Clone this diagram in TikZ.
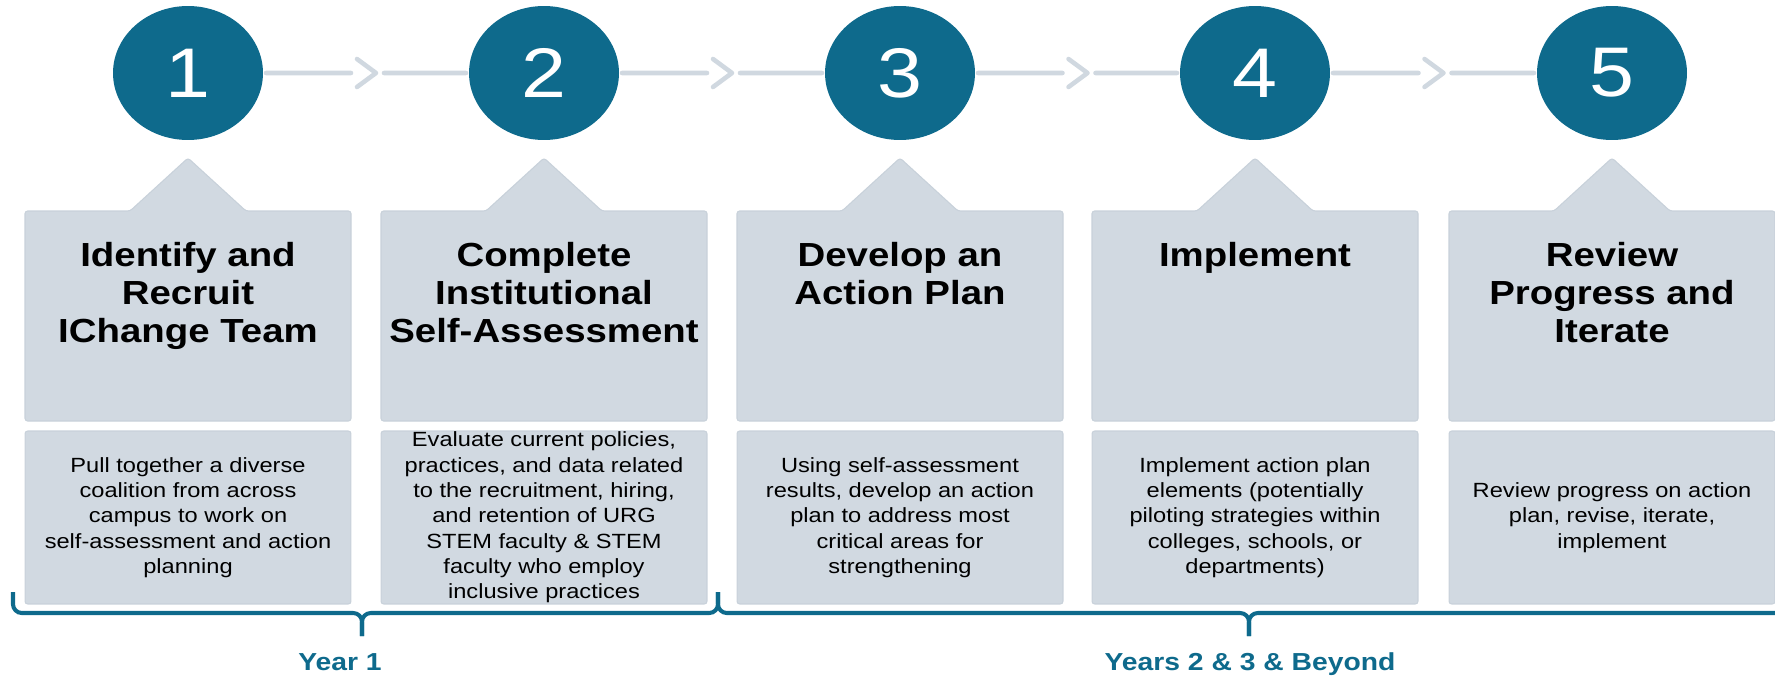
\documentclass[tikz,border=0pt]{standalone}
\usepackage{fontspec}
\setmainfont[FakeStretch=1.15]{Liberation Sans}
\usetikzlibrary{shapes.geometric, calc}

\definecolor{stepteal}{HTML}{0E6A8C}
\definecolor{boxgray}{HTML}{D1D9E1}
\definecolor{boxedge}{HTML}{C8D1DA}
\definecolor{linkgray}{HTML}{D0D8E0}

\tikzset{
  num/.style={ellipse, fill=stepteal, minimum width=3cm, minimum height=2.68cm, inner sep=0pt, text=white, font=\fontsize{40}{40}\selectfont},
  card/.style={fill=boxgray, draw=boxedge, line width=0.6pt, rounded corners=1.5pt},
  head/.style={align=center, inner sep=0pt, anchor=north, font=\fontsize{19}{21.6}\selectfont\bfseries},
  desc/.style={align=center, inner sep=0pt, font=\fontsize{11.7}{14.4}\selectfont},
  link/.style={linkgray, line width=2.6pt, line cap=round, line join=round},
  yearbrace/.style={stepteal, line width=2.3pt, rounded corners=5pt},
  yearlabel/.style={anchor=base, text=stepteal, font=\fontsize{14}{16}\selectfont\bfseries}
}

\begin{document}
\begin{tikzpicture}[x=0.02cm, y=-0.02cm]
\useasboundingbox (0,0) rectangle (1775,676);
\foreach \i/\x/\title/\body in {
  1/188/{Identify and\\Recruit\\IChange Team}/{Pull together a diverse\\coalition from across\\campus to work on\\self-assessment and action\\planning},
  2/544/{Complete\\Institutional\\Self-Assessment}/{Evaluate current policies,\\practices, and data related\\to the recruitment, hiring,\\and retention of URG\\STEM faculty \& STEM\\faculty who employ\\inclusive practices},
  3/900/{Develop an\\Action Plan}/{Using self-assessment\\results, develop an action\\plan to address most\\critical areas for\\strengthening},
  4/1255/{Implement}/{Implement action plan\\elements (potentially\\piloting strategies within\\colleges, schools, or\\departments)},
  5/1612/{Review\\Progress and\\Iterate}/{Review progress on action\\plan, revise, iterate,\\implement}} {
  \node[num] (c\i) at (\x,73) {\i};
  \draw[card] (\x-163,211) -- (\x-58,211) -- (\x,158) -- (\x+58,211) -- (\x+163,211) -- (\x+163,421) -- (\x-163,421) -- cycle;
  \node[head] (h\i) at (\x,242) {\title};
  \node[card, minimum width=6.52cm, minimum height=3.46cm] (b\i) at (\x,517.5) {};
  \node[desc] (d\i) at (b\i) {\body};
}
\foreach \i [evaluate=\i as \j using int(\i+1)] in {1,...,4} {
  \coordinate (m\i) at ($(c\i.east)!0.5!(c\j.west)$);
  \draw[link, shorten <=1.5pt] (c\i.east) -- ($(m\i)+(-15,0)$);
  \draw[link] ($(m\i)+(-9,-14)$) -- ($(m\i)+(10,0)$) -- ($(m\i)+(-9,14)$);
  \draw[link, shorten >=1.5pt] ($(m\i)+(18,0)$) -- (c\j.west);
}
\draw[yearbrace] (13,592) |- (362,613) -- (362,636);
\draw[yearbrace] (362,636) -- (362,613) -| (718,592);
\draw[yearbrace] (718,592) |- (1249,613) -- (1249,636);
\draw[yearbrace] (1249,636) -- (1249,613) -- (1790,613);
\node[yearlabel] (y1) at (340,670) {Year 1};
\node[yearlabel] (y2) at (1250,670) {Years 2 \& 3 \& Beyond};
\end{tikzpicture}
\end{document}
